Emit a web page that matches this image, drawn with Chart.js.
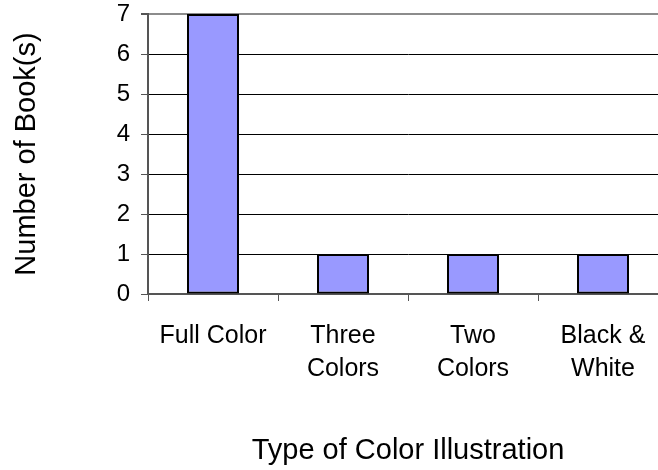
<!DOCTYPE html>
<html>
<head>
<meta charset="utf-8">
<script src="https://cdn.jsdelivr.net/npm/chart.js@4"></script>
<style>
    html, body { margin: 0; padding: 0; background: #fff; overflow: hidden; }
    #wrap { position: relative; width: 680px; height: 470px; }
</style>
</head>
<body>
<div id="wrap"><canvas id="book-chart"></canvas></div>
<script>
const categoryLabels = [['Full Color'], ['Three', 'Colors'], ['Two', 'Colors'], ['Black &', 'White']];
const bookCounts = [7, 1, 1, 1];
const yMin = 0;
const yMax = 7;
const xTitle = 'Type of Color Illustration';
const yTitle = 'Number of Book(s)';

const fontFamily = "'Liberation Sans', Arial, sans-serif";

const ctx = document.getElementById('book-chart').getContext('2d');
const bookChart = new Chart(ctx, {
    type: 'bar',
    data: {
        labels: categoryLabels,
        datasets: [{
            label: 'Books',
            data: bookCounts,
            backgroundColor: '#9999ff',
            borderColor: '#000000',
            borderWidth: 2,
            borderSkipped: false,
            categoryPercentage: 1,
            barPercentage: 0.4
        }]
    },
    options: {
        responsive: true,
        maintainAspectRatio: false,
        animation: false,
        layout: {
            padding: { top: 14, right: 12, bottom: 0, left: 0 }
        },
        plugins: {
            legend: { display: false },
            tooltip: { enabled: false }
        },
        scales: {
            x: {
                offset: true,
                grid: {
                    offset: true,
                    drawOnChartArea: false,
                    drawTicks: true,
                    tickLength: 7,
                    color: '#555555',
                    lineWidth: 1
                },
                border: { color: '#555555', width: 2 },
                ticks: {
                    color: '#000000',
                    padding: 19,
                    maxRotation: 0,
                    font: { family: fontFamily, size: 25, lineHeight: 1.32 }
                },
                title: {
                    display: true,
                    text: xTitle,
                    color: '#000000',
                    padding: { top: 0, bottom: 2 },
                    font: { family: fontFamily, size: 29, lineHeight: 1.2 }
                },
                afterFit: (scale) => {
                    scale.height = 176;
                }
            },
            y: {
                min: yMin,
                max: yMax,
                ticks: {
                    stepSize: 1,
                    color: '#000000',
                    padding: 11,
                    // small line height so the top label doesn't push the plot down
                    font: { family: fontFamily, size: 24, lineHeight: 0.25 }
                },
                grid: {
                    color: (c) => (c.tick && c.tick.value === yMax ? '#8c8c8c' : '#000000'),
                    lineWidth: (c) => (c.tick && c.tick.value === yMax ? 2 : 1),
                    tickColor: '#555555',
                    tickLength: 7
                },
                border: { color: '#555555', width: 2 },
                title: {
                    display: true,
                    text: yTitle,
                    color: '#000000',
                    padding: { top: 10, bottom: 0 },
                    font: { family: fontFamily, size: 29, lineHeight: 1.2 }
                },
                afterFit: (scale) => {
                    scale.width = 148;
                }
            }
        }
    }
});
</script>
</body>
</html>
